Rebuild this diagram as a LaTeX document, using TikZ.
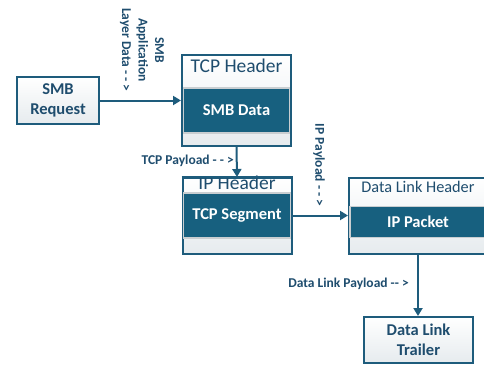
\documentclass[tikz,border=0pt]{standalone}
\usepackage{fontspec}
\setmainfont{Carlito}
\usetikzlibrary{arrows.meta}
\definecolor{edge}{HTML}{1E5C7C}
\definecolor{darkfill}{HTML}{17607F}
\definecolor{txt}{HTML}{1F4D6E}
\definecolor{pale}{HTML}{E6EBEE}
\definecolor{inedge}{HTML}{C9CED1}
\tikzset{
  outerbox/.style={draw=edge, line width=2pt, top color=white, bottom color=pale, inner sep=0, rectangle},
  innerbox/.style={draw=inedge, line width=1.5pt, fill=darkfill, inner sep=0, rectangle, text=white, font=\bfseries\fontsize{16.5}{19}\selectfont},
  boxtext/.style={text=txt, font=\bfseries\fontsize{16.5}{20}\selectfont, align=center},
  headtext/.style={text=txt, inner sep=0, anchor=base},
  lbl/.style={text=txt, font=\bfseries\fontsize{13.5}{16.5}\selectfont, inner sep=0, align=center},
  arr/.style={draw=edge, line width=2pt, -{Triangle[length=8pt,width=9pt]}}
}
\begin{document}
\begin{tikzpicture}[x=1pt,y=-1pt]
\useasboundingbox (0,0) rectangle (484,367);
\clip (0,0) rectangle (484,367);
% SMB Request
\node[outerbox, boxtext, minimum width=82pt, minimum height=47pt] (smb) at (58,100.5) {SMB\\Request};
% TCP Header block
\node[outerbox, minimum width=109pt, minimum height=91pt] (tcpouter) at (236.5,100.5) {};
\node[headtext, font=\fontsize{19.5}{22}\selectfont] (tcphead) at (236.5,72) {TCP Header};
\node[innerbox, minimum width=106pt, minimum height=45pt] (smbdata) at (236.5,110.5) {SMB Data};
% IP Header block
\node[outerbox, minimum width=109pt, minimum height=76pt] (ipouter) at (237,216) {};
\node[headtext, font=\fontsize{19.5}{22}\selectfont] (iphead) at (237,189.5) {IP Header};
\draw[edge, line width=2pt] (ipouter.north west) -- (ipouter.north east);
\node[innerbox, minimum width=107pt, minimum height=45pt] (tcpseg) at (237,215.5) {TCP Segment};
% Data Link block
\node[outerbox, minimum width=138pt, minimum height=76pt] (dlouter) at (418,216) {};
\node[headtext, font=\fontsize{16.3}{19}\selectfont] (dlhead) at (418,192) {Data Link Header};
\node[innerbox, minimum width=136pt, minimum height=31pt] (ippacket) at (418,222) {IP Packet};
% Trailer
\node[outerbox, boxtext, minimum width=109pt, minimum height=46pt] (trailer) at (418.5,340) {Data Link\\Trailer};
% connectors
\draw[arr] (smb.east) -- (smb.east -| tcpouter.west);
\draw[arr] (tcpouter.south) -- (ipouter.north);
\draw[arr] (tcpseg.east) -- (tcpseg.east -| dlouter.west);
\draw[arr] (dlouter.south) -- (dlouter.south |- trailer.north);
% labels
\node[lbl, rotate=-90] (smblbl) at (142,50) {SMB\\Application\\Layer Data - - >};
\node[lbl, anchor=east] (tcplbl) at (234,161) {TCP Payload - - >};
\node[lbl, rotate=-90] (iplbl) at (319,165) {IP Payload - - >};
\node[lbl] (dllbl) at (348.5,284) {Data Link Payload -{}- >};
\end{tikzpicture}
\end{document}
